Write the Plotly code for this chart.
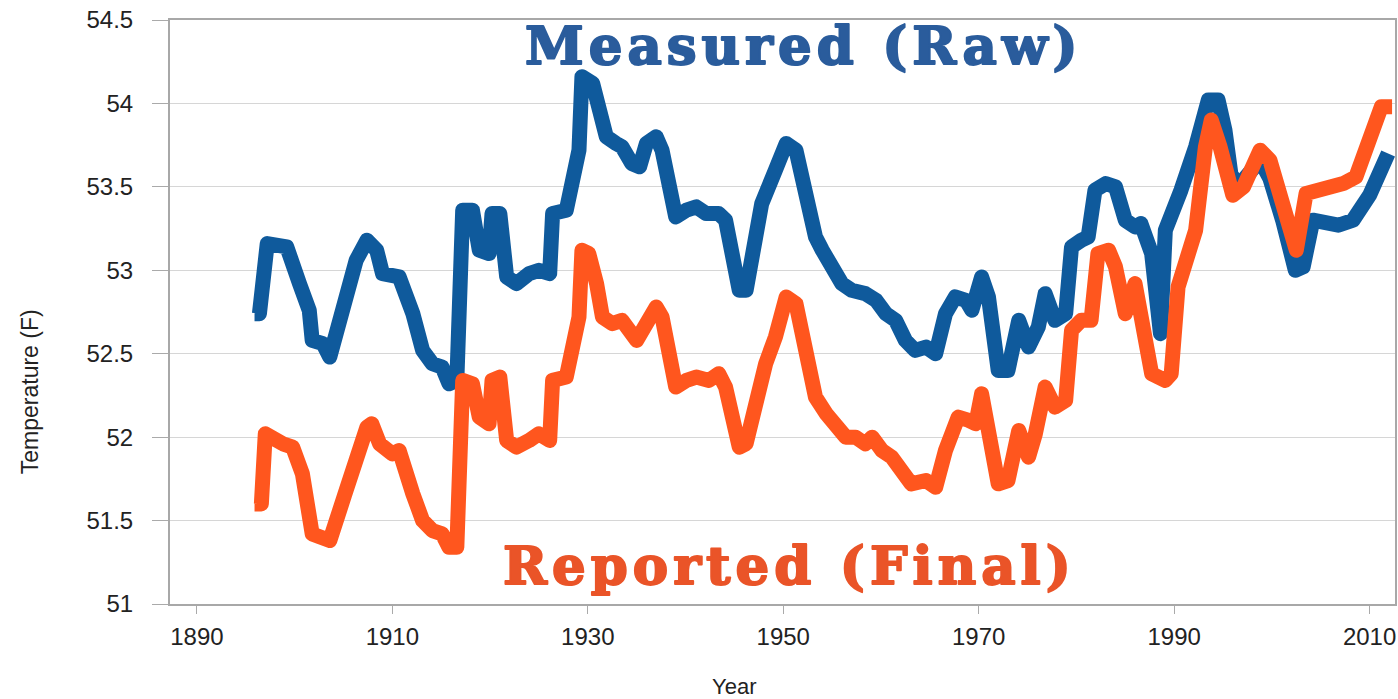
import plotly.graph_objects as go

# Measured (raw) annual-mean temperature, deg F
raw_years = [
    1895.9, 1896.4, 1897.2, 1898.2, 1899.2, 1900.5, 1901.5, 1901.8, 1902.9, 1903.6,
    1904.9, 1906.3, 1907.4, 1908.4, 1909.0, 1910.0, 1910.7, 1912.1, 1913.1, 1914.1,
    1915.1, 1915.8, 1916.6, 1917.2, 1918.2, 1918.9, 1919.9, 1920.2, 1921.0, 1921.7,
    1922.7, 1924.0, 1925.0, 1926.1, 1926.4, 1927.8, 1928.4, 1929.1, 1929.4, 1930.5,
    1931.2, 1931.9, 1932.9, 1933.5, 1934.5, 1935.3, 1936.0, 1937.0, 1937.6, 1938.3,
    1939.0, 1940.1, 1941.1, 1942.1, 1943.4, 1944.1, 1944.8, 1945.5, 1946.2, 1946.8,
    1947.8, 1949.2, 1950.3, 1951.3, 1951.9, 1952.6, 1953.3, 1954.0, 1955.0, 1956.0,
    1957.0, 1958.4, 1959.5, 1960.5, 1961.5, 1962.5, 1963.5, 1964.6, 1965.6, 1966.6,
    1967.6, 1968.7, 1969.3, 1970.3, 1971.0, 1972.0, 1973.0, 1974.1, 1975.1, 1976.1,
    1976.8, 1977.8, 1978.9, 1979.5, 1980.5, 1981.2, 1981.9, 1983.0, 1984.0, 1985.0,
    1986.0, 1986.6, 1987.7, 1988.6, 1989.1, 1990.1, 1990.7, 1992.2, 1993.5, 1994.5,
    1995.2, 1995.8, 1996.5, 1998.8, 1999.8, 2001.1, 2002.4, 2003.2, 2004.2, 2006.8,
    2008.3, 2010.0, 2011.9,
]
raw_temps = [
    52.74, 52.74, 53.16, 53.14, 53.14, 52.92, 52.76, 52.58, 52.56, 52.48,
    52.78, 53.06, 53.18, 53.12, 52.98, 52.98, 52.96, 52.74, 52.52, 52.44,
    52.42, 52.32, 52.34, 53.36, 53.36, 53.12, 53.10, 53.34, 53.34, 52.96,
    52.92, 52.98, 53.00, 52.98, 53.34, 53.36, 53.52, 53.72, 54.16, 54.12,
    53.96, 53.80, 53.76, 53.74, 53.64, 53.62, 53.76, 53.80, 53.72, 53.48,
    53.32, 53.36, 53.38, 53.34, 53.34, 53.30, 53.12, 52.88, 52.88, 53.04,
    53.40, 53.60, 53.76, 53.72, 53.56, 53.38, 53.20, 53.12, 53.02, 52.92,
    52.88, 52.86, 52.82, 52.74, 52.70, 52.58, 52.52, 52.54, 52.50, 52.74,
    52.84, 52.82, 52.76, 52.96, 52.84, 52.40, 52.40, 52.70, 52.54, 52.66,
    52.86, 52.70, 52.74, 53.14, 53.18, 53.20, 53.48, 53.52, 53.50, 53.30,
    53.26, 53.28, 53.10, 52.62, 53.24, 53.44, 53.48, 53.74, 54.02, 54.02,
    53.84, 53.58, 53.50, 53.66, 53.55, 53.30, 53.00, 53.02, 53.30, 53.27,
    53.30, 53.45, 53.70,
]

# Reported (final, adjusted) annual-mean temperature, deg F
final_years = [
    1895.9, 1896.6, 1897.0, 1897.5, 1898.8, 1899.8, 1900.8, 1901.8, 1902.9, 1903.6,
    1905.1, 1906.3, 1907.4, 1907.9, 1908.7, 1910.0, 1910.7, 1912.1, 1913.1, 1914.1,
    1915.1, 1915.8, 1916.6, 1917.2, 1918.2, 1918.9, 1919.9, 1920.2, 1921.0, 1921.7,
    1922.7, 1924.0, 1925.0, 1926.1, 1926.4, 1927.8, 1928.4, 1929.1, 1929.4, 1930.1,
    1930.9, 1931.5, 1932.5, 1933.5, 1935.0, 1936.0, 1937.0, 1937.6, 1938.3, 1939.0,
    1940.1, 1941.1, 1942.4, 1943.4, 1944.1, 1944.8, 1945.5, 1946.2, 1947.2, 1948.2,
    1949.2, 1950.3, 1951.3, 1951.9, 1952.6, 1953.3, 1954.4, 1955.4, 1956.4, 1957.4,
    1958.4, 1959.1, 1960.1, 1961.1, 1962.1, 1963.1, 1964.6, 1965.6, 1966.6, 1967.9,
    1969.0, 1969.7, 1970.3, 1971.3, 1972.0, 1973.0, 1974.1, 1975.1, 1975.8, 1976.8,
    1977.8, 1978.9, 1979.5, 1980.5, 1981.5, 1982.2, 1983.3, 1984.0, 1985.0, 1986.0,
    1986.6, 1987.7, 1989.1, 1989.7, 1990.4, 1991.4, 1992.2, 1993.2, 1993.8, 1994.7,
    1996.0, 1997.1, 1998.8, 1999.8, 2001.1, 2002.5, 2003.5, 2005.2, 2007.3, 2008.6,
    2011.2, 2012.3,
]
final_temps = [
    51.60, 51.60, 52.02, 52.00, 51.96, 51.94, 51.78, 51.42, 51.40, 51.38,
    51.65, 51.90, 52.06, 52.08, 51.96, 51.90, 51.92, 51.66, 51.50, 51.44,
    51.42, 51.34, 51.34, 52.34, 52.32, 52.12, 52.08, 52.34, 52.36, 51.98,
    51.94, 51.98, 52.02, 51.98, 52.34, 52.36, 52.54, 52.72, 53.12, 53.10,
    52.92, 52.72, 52.68, 52.70, 52.58, 52.68, 52.78, 52.72, 52.48, 52.30,
    52.34, 52.36, 52.34, 52.38, 52.30, 52.12, 51.94, 51.96, 52.22, 52.44,
    52.60, 52.84, 52.80, 52.62, 52.40, 52.24, 52.14, 52.06, 52.00, 52.00,
    51.96, 52.00, 51.92, 51.88, 51.80, 51.72, 51.74, 51.70, 51.92, 52.12,
    52.10, 52.08, 52.26, 51.94, 51.72, 51.74, 52.04, 51.88, 52.02, 52.30,
    52.18, 52.22, 52.64, 52.70, 52.70, 53.10, 53.12, 53.02, 52.74, 52.92,
    52.74, 52.38, 52.34, 52.38, 52.90, 53.10, 53.24, 53.74, 53.90, 53.74,
    53.45, 53.50, 53.72, 53.66, 53.40, 53.12, 53.46, 53.48, 53.52, 53.56,
    53.98, 53.98,
]

x_ticks = [1890, 1910, 1930, 1950, 1970, 1990, 2010]
y_ticks = [51, 51.5, 52, 52.5, 53, 53.5, 54, 54.5]
y_tick_text = ["51", "51.5", "52", "52.5", "53", "53.5", "54", "54.5"]

BLUE = "#0f5a9c"
ORANGE = "#ff561e"

fig = go.Figure()
fig.add_trace(go.Scatter(x=raw_years, y=raw_temps, mode="lines",
                         line=dict(color=BLUE, width=15), name="Measured (Raw)"))
fig.add_trace(go.Scatter(x=final_years, y=final_temps, mode="lines",
                         line=dict(color=ORANGE, width=15), name="Reported (Final)"))

tick_font = dict(family="Liberation Sans, Arial, sans-serif", size=24, color="#222222")

# plot area in pixels: left 170, right 1397, top 20, bottom 604
L, R, T, B = 170, 1397, 20, 604


def px(x):
    return (x - L) / (R - L)


def py(y):
    return (B - y) / (B - T)


fig.update_layout(
    width=1398, height=699,
    margin=dict(l=L, r=1398 - R, t=T, b=699 - B),
    paper_bgcolor="white", plot_bgcolor="white",
    showlegend=False,
    xaxis=dict(
        range=[1887.25, 2012.6], tickmode="array", tickvals=x_ticks,
        ticks="outside", ticklen=8, tickwidth=1, tickcolor="#aaaaaa",
        showgrid=False, zeroline=False,
        showline=True, linecolor="#a8a8a8", linewidth=2, mirror=True,
        tickfont=tick_font, ticklabelstandoff=2,
    ),
    yaxis=dict(
        range=[51, 54.5], tickmode="array", tickvals=y_ticks, ticktext=y_tick_text,
        ticks="outside", ticklen=16, tickwidth=1, tickcolor="#aaaaaa",
        showgrid=True, gridcolor="#d6d6d6", gridwidth=1, zeroline=False,
        showline=True, linecolor="#a8a8a8", linewidth=2, mirror=True,
        tickfont=tick_font, ticklabelstandoff=14,
    ),
    annotations=[
        dict(text="Measured (Raw)", xref="paper", yref="paper",
             x=px(805), y=py(45), showarrow=False,
             xanchor="center", yanchor="middle",
             font=dict(family="DejaVu Serif", size=53, color="#2a5c9c", weight="bold")),
        dict(text="Reported (Final)", xref="paper", yref="paper",
             x=px(791), y=py(565), showarrow=False,
             xanchor="center", yanchor="middle",
             font=dict(family="DejaVu Serif", size=53, color="#ea5428", weight="bold")),
        dict(text="Temperature (F)", xref="paper", yref="paper",
             x=px(30), y=py(392), showarrow=False,
             xanchor="center", yanchor="middle", textangle=-90,
             font=dict(family="Liberation Sans Narrow, Liberation Sans, sans-serif",
                       size=23, color="#222222")),
        dict(text="Year", xref="paper", yref="paper",
             x=px(735), y=py(686), showarrow=False,
             xanchor="center", yanchor="middle",
             font=dict(family="Liberation Sans, Arial, sans-serif", size=22, color="#222222")),
    ],
)

# Round the joins of the thick series lines and give the slab captions a
# heavier, wider set.
post = """
document.querySelectorAll('.scatterlayer path.js-line').forEach(function(p){
    p.style.strokeLinejoin = 'round';
});
document.querySelectorAll('.annotation-text').forEach(function(t){
    var s = t.textContent;
    if (s.indexOf('(Raw)') >= 0 || s.indexOf('(Final)') >= 0) {
        t.style.letterSpacing = '5px';
        t.style.stroke = t.style.fill;
        t.style.strokeWidth = '2px';
        t.style.strokeLinejoin = 'round';
    }
});
"""

fig.write_html("out.html", post_script=post)
